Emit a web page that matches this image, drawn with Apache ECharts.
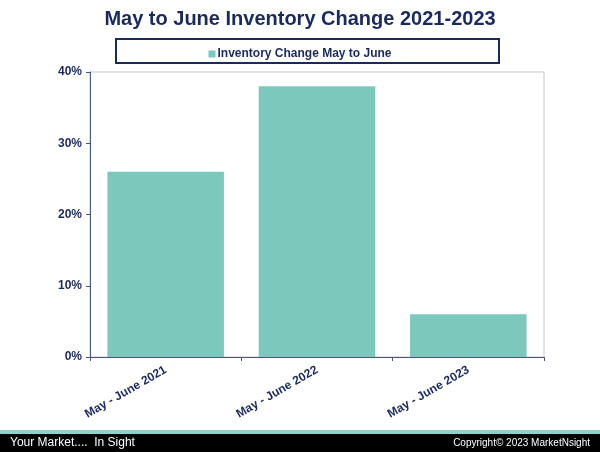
<!DOCTYPE html>
<html><head><meta charset="utf-8">
<script src="https://cdn.jsdelivr.net/npm/echarts@6/dist/echarts.min.js"></script>
<style>html,body{margin:0;padding:0;background:#fff}#c{width:600px;height:452px}</style>
</head><body><div id="c"></div>
<script>
const categories = ['May - June 2021', 'May - June 2022', 'May - June 2023'];
const values = [26, 38, 6];
const seriesName = 'Inventory Change May to June';
const titleText = 'May to June Inventory Change 2021-2023';
const navy = '#1b2a5e';
const teal = '#7cc8bc';
const chart = echarts.init(document.getElementById('c'));
chart.setOption({
  animation: false,
  textStyle: { fontFamily: 'Liberation Sans, Arial, sans-serif' },
  title: { text: titleText, left: 'center', top: 4,
    textStyle: { color: navy, fontSize: 20, fontWeight: 'bold', fontFamily: 'Liberation Sans, Arial, sans-serif' } },
  legend: { top: 43, left: 'center', itemWidth: 7, itemHeight: 7, itemGap: 4,
    icon: 'rect',
    textStyle: { color: navy, fontSize: 12, fontWeight: 'bold', padding: [0,0,0,-3] },
    data: [seriesName] },
  grid: { left: 90, right: 56, top: 72, bottom: 95, show: true, borderColor: '#c8c8c8', borderWidth: 1 },
  xAxis: { type: 'category', data: categories,
    axisLine: { lineStyle: { color: '#4a5578', width: 1 } },
    axisTick: { show: true, length: 4, lineStyle: { color: '#4a5578' } },
    axisLabel: { rotate: 30, color: navy, fontWeight: 'bold', fontSize: 12, margin: 12 } },
  yAxis: { type: 'value', min: 0, max: 40, interval: 10,
    axisLine: { show: true, lineStyle: { color: '#4a5578' } },
    axisTick: { show: true, length: 4, lineStyle: { color: '#4a5578' } },
    splitLine: { show: false },
    axisLabel: { formatter: '{value}%', color: navy, fontWeight: 'bold', fontSize: 12, margin: 8 } },
  series: [{ name: seriesName, type: 'bar', data: values, barWidth: '77%',
    itemStyle: { color: teal } }],
  graphic: [
    { type: 'rect', shape: { x: 116, y: 39, width: 383, height: 24 }, style: { fill: 'none', stroke: navy, lineWidth: 2 }, z: 100 },
    { type: 'rect', shape: { x: 0, y: 430, width: 600, height: 5 }, style: { fill: '#8fd3c8' } },
    { type: 'rect', shape: { x: 0, y: 434, width: 600, height: 18 }, style: { fill: '#000' } },
    { type: 'text', left: 10, top: 437, style: { text: 'Your Market....  In Sight', fill: '#fff', font: '12px Liberation Sans, Arial, sans-serif' } },
    { type: 'text', right: 10, top: 438, style: { text: 'Copyright© 2023 MarketNsight', fill: '#fff', font: '10px Liberation Sans, Arial, sans-serif' } }
  ]
});
</script></body></html>
